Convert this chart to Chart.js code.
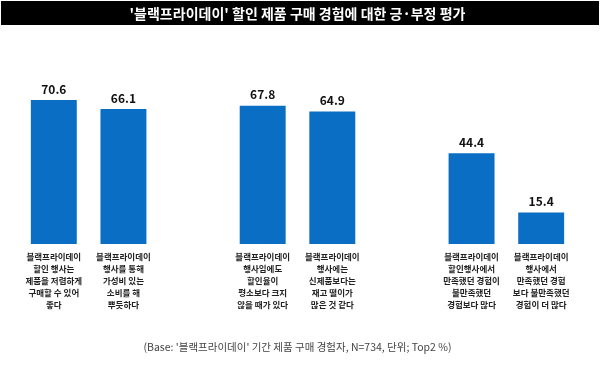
<!DOCTYPE html>
<html>
<head>
<meta charset="utf-8">
<script src="https://cdn.jsdelivr.net/npm/chart.js@4"></script>
<style>
  html, body { margin: 0; padding: 0; background: #fff; }
  #wrap { width: 600px; height: 366px; }
</style>
</head>
<body>
<div id="wrap"><canvas id="chart" width="600" height="366"></canvas></div>
<script>
// Chart data (empty slots make the gaps between the three groups)
var categories = [
  ["블랙프라이데이", "할인 행사는", "제품을 저렴하게", "구매할 수 있어", "좋다"],
  ["블랙프라이데이", "행사를 통해", "가성비 있는", "소비를 해", "뿌듯하다"],
  "",
  ["블랙프라이데이", "행사임에도", "할인율이", "평소보다 크지", "않을 때가 있다"],
  ["블랙프라이데이", "행사에는", "신제품보다는", "재고 떨이가", "많은 것 같다"],
  "",
  ["블랙프라이데이", "할인행사에서", "만족했던 경험이", "불만족했던", "경험보다 많다"],
  ["블랙프라이데이", "행사에서", "만족했던 경험", "보다 불만족했던", "경험이 더 많다"]
];
var values = [70.6, 66.1, null, 67.8, 64.9, null, 44.4, 15.4];

var titleText = "'블랙프라이데이' 할인 제품 구매 경험에 대한 긍·부정 평가";
var footText = "(Base: '블랙프라이데이' 기간 제품 구매 경험자, N=734, 단위; Top2 %)";

var FONT = "'Noto Sans CJK KR', 'Noto Sans', sans-serif";

// black band behind the title
var titleBand = {
  id: "titleBand",
  beforeDraw: function (chart) {
    var ctx = chart.ctx;
    ctx.save();
    ctx.fillStyle = "#000";
    ctx.fillRect(1, 1, 598, 24);
    ctx.restore();
  }
};

// numbers above the bars
var valueLabels = {
  id: "valueLabels",
  afterDatasetsDraw: function (chart) {
    var ctx = chart.ctx;
    var meta = chart.getDatasetMeta(0);
    ctx.save();
    ctx.font = "bold 12px " + FONT;
    ctx.fillStyle = "#111";
    ctx.textAlign = "center";
    ctx.textBaseline = "middle";
    meta.data.forEach(function (bar, i) {
      if (values[i] === null) return;
      ctx.fillText(values[i].toFixed(1), bar.x, bar.y - 11);
    });
    ctx.restore();
  }
};

new Chart(document.getElementById("chart"), {
  type: "bar",
  data: {
    labels: categories,
    datasets: [{
      data: values,
      backgroundColor: "#0A6FC4",
      barPercentage: 0.66,
      categoryPercentage: 1
    }]
  },
  options: {
    responsive: false,
    animation: false,
    devicePixelRatio: 1,
    layout: { padding: { left: 19, right: 24, top: 0, bottom: 0 } },
    plugins: {
      legend: { display: false },
      tooltip: { enabled: false },
      title: {
        display: true,
        text: titleText,
        color: "#fff",
        font: { family: FONT, size: 14, weight: "bold", lineHeight: 1.2 },
        padding: { top: 5.1, bottom: 18.1 }
      },
      subtitle: {
        display: true,
        position: "bottom",
        text: footText,
        color: "#444",
        font: { family: FONT, size: 10.5, lineHeight: 1.2 },
        padding: { top: 23.3, bottom: 12.7 }
      }
    },
    scales: {
      x: {
        grid: { display: false, drawTicks: false },
        border: { display: false },
        ticks: {
          autoSkip: false,
          maxRotation: 0,
          padding: 7,
          color: "#222",
          font: { family: FONT, size: 8.5, weight: "bold", lineHeight: 1.4 }
        }
      },
      y: {
        display: false,
        min: 0,
        max: 100
      }
    }
  },
  plugins: [titleBand, valueLabels]
});
</script>
</body>
</html>
